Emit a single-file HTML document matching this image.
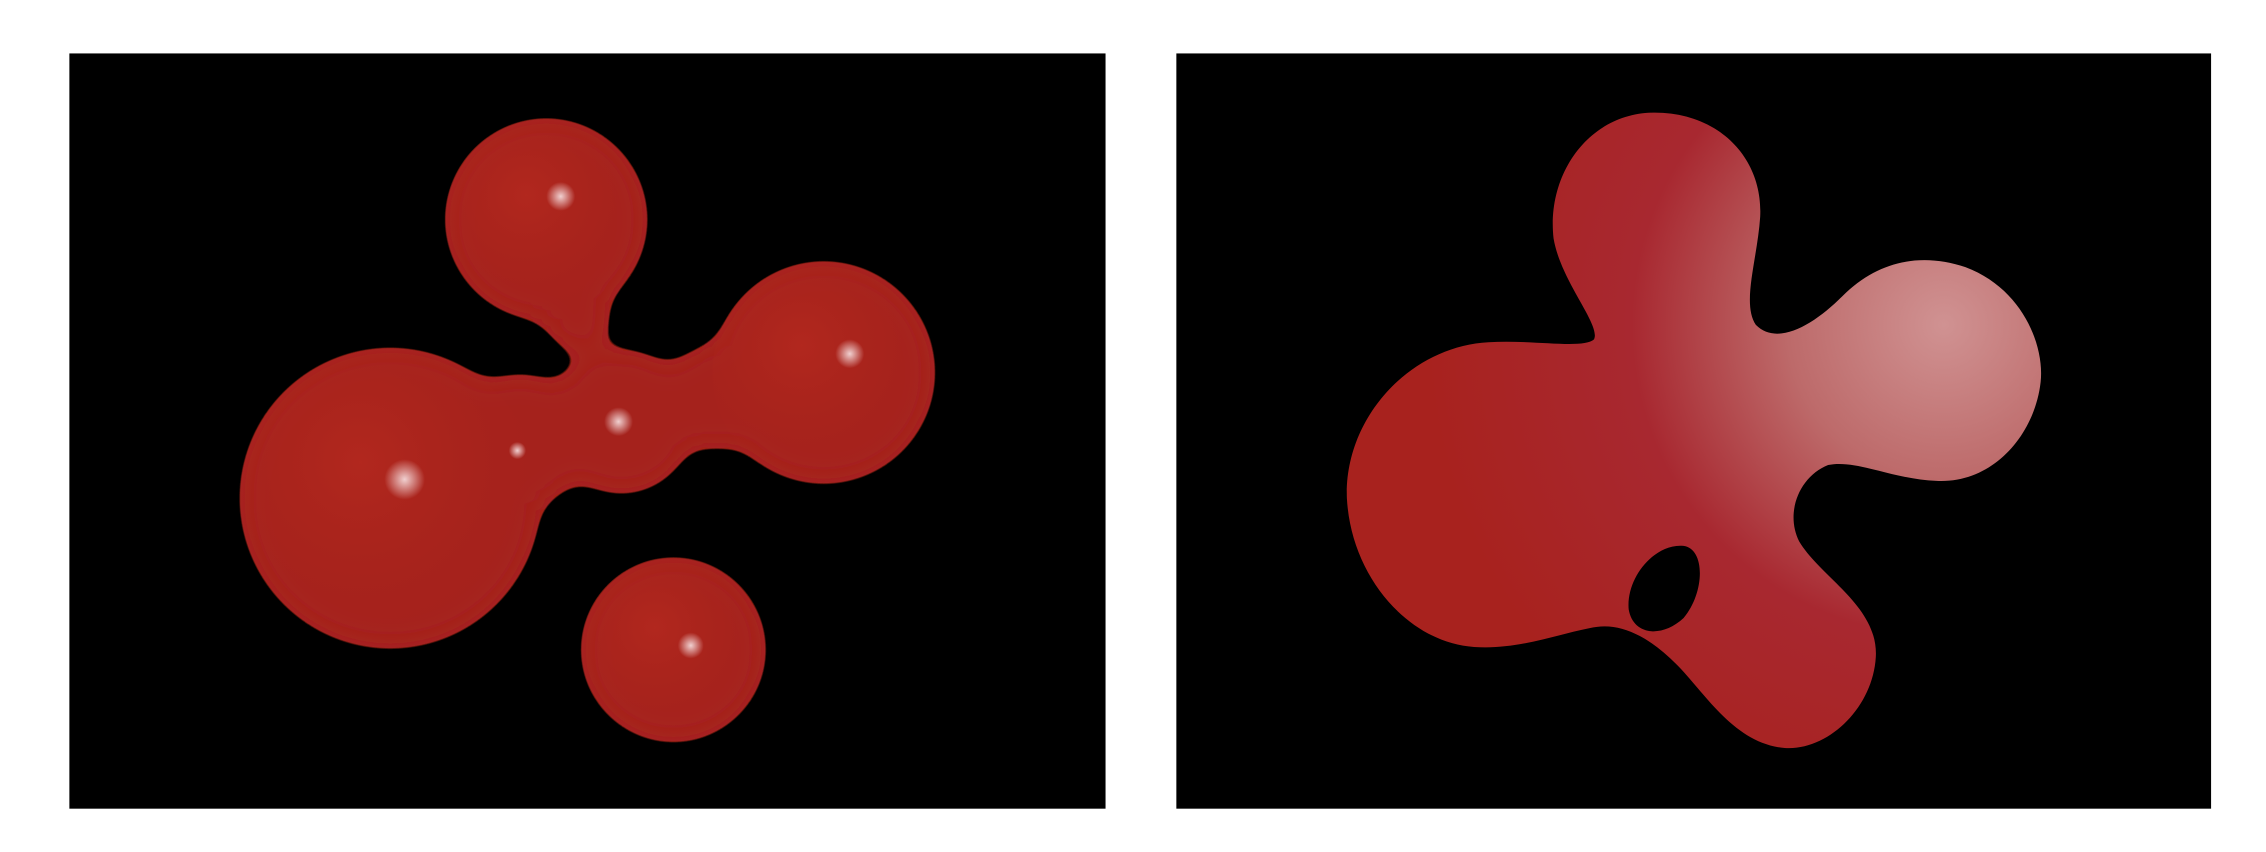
<!DOCTYPE html>
<html><head><meta charset="utf-8"><style>
html,body{margin:0;padding:0;background:#fff;width:2266px;height:852px;overflow:hidden}
svg{display:block}
</style></head><body>
<svg width="2266" height="852" viewBox="0 0 1568 590" preserveAspectRatio="none">
<defs>
<radialGradient id="rg" cx="0.4" cy="0.38" r="0.6">
<stop offset="0" stop-color="#b3281e" stop-opacity="0.9"/><stop offset="1" stop-color="#a8231b" stop-opacity="0"/>
</radialGradient>
<radialGradient id="hl" cx="0.5" cy="0.5" r="0.5">
<stop offset="0" stop-color="#f0d0d0"/><stop offset="1" stop-color="#f0d0d0" stop-opacity="0"/>
</radialGradient>
<radialGradient id="pk" gradientUnits="userSpaceOnUse" cx="1345" cy="225" r="360">
<stop offset="0" stop-color="#d09292"/><stop offset="0.3" stop-color="#bd6a6a"/><stop offset="0.6" stop-color="#a82830"/><stop offset="1" stop-color="#a8221e"/>
</radialGradient>
<filter id="goo" x="-20%" y="-20%" width="140%" height="140%">
<feGaussianBlur in="SourceGraphic" stdDeviation="10"/>
<feColorMatrix values="1 0 0 0 0 0 1 0 0 0 0 0 1 0 0 0 0 0 22 -10"/>
</filter>
</defs>
<rect x="48" y="37" width="717" height="523" fill="#000"/>
<rect x="814" y="37" width="716" height="523" fill="#000"/>
<g>
<g filter="url(#goo)" fill="#a5221a">
<circle cx="270" cy="345" r="104"/>
<circle cx="378" cy="152" r="70"/>
<circle cx="570" cy="258" r="77"/>
<circle cx="430" cy="292" r="50"/>
<circle cx="360" cy="305" r="46"/>
<circle cx="400" cy="222" r="22"/>
<circle cx="495" cy="275" r="36"/>
<circle cx="466" cy="450" r="64"/>
</g>
<circle cx="270" cy="345" r="104" fill="url(#rg)"/>
<circle cx="378" cy="152" r="70" fill="url(#rg)"/>
<circle cx="570" cy="258" r="77" fill="url(#rg)"/>
<circle cx="466" cy="450" r="64" fill="url(#rg)"/>
<circle cx="280" cy="332" r="14" fill="url(#hl)"/>
<circle cx="388" cy="136" r="10" fill="url(#hl)"/>
<circle cx="588" cy="245" r="10" fill="url(#hl)"/>
<circle cx="478" cy="447" r="9" fill="url(#hl)"/>
<circle cx="428" cy="292" r="10" fill="url(#hl)"/>
<circle cx="358" cy="312" r="6" fill="url(#hl)"/>
</g>
<g>
<path fill-rule="evenodd" fill="url(#pk)" d="M1145,78 C1190,78 1220,110 1218,150 C1216,180 1205,210 1215,225 C1230,240 1255,225 1275,205 C1300,180 1330,175 1360,185 C1400,200 1415,240 1412,265 C1408,300 1380,335 1340,333 C1310,332 1285,318 1265,322 C1245,330 1235,355 1245,375 C1260,400 1300,420 1298,455 C1296,490 1265,520 1235,518 C1200,515 1180,480 1160,460 C1140,440 1120,430 1100,435 C1075,440 1050,450 1020,448 C975,445 935,400 932,345 C930,290 975,240 1030,237 C1060,235 1095,242 1103,235 C1108,225 1080,195 1075,165 C1070,120 1100,78 1145,78 Z
M1165,378 C1180,380 1180,410 1165,428 C1150,442 1130,440 1127,422 C1125,400 1145,376 1165,378 Z"/>
</g>
</svg>
</body></html>
